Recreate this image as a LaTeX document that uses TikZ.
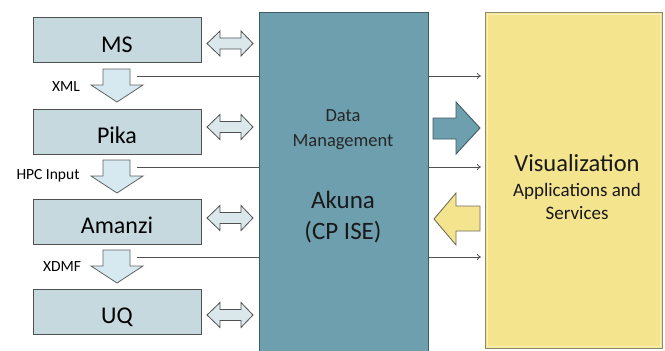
\documentclass[tikz,border=0pt]{standalone}
\usepackage{fontspec}
\setmainfont{Carlito}
\usetikzlibrary{arrows.meta}
\definecolor{boxfill}{HTML}{C5D9DF}
\definecolor{arrfill}{HTML}{DAE8EC}
\definecolor{downfill}{HTML}{D6E9F0}
\definecolor{akfill}{HTML}{6E9FAE}
\definecolor{akdraw}{HTML}{3E5C66}
\definecolor{visfill}{HTML}{F4E48E}
\definecolor{visdraw}{HTML}{8C8A70}
\definecolor{edge}{HTML}{505050}
\begin{document}
\begin{tikzpicture}[x=1pt,y=1pt,
  modbox/.style={draw=edge,line width=1pt,fill=boxfill,minimum width=168pt,minimum height=45pt,inner sep=0pt,
    text height=24pt,text depth=0pt,font=\fontsize{24}{28}\selectfont},
  dblarr/.style={draw=edge,line width=0.8pt,fill=arrfill,line join=miter},
  downarr/.style={draw=edge!90,line width=0.8pt,fill=downfill,line join=miter},
  lbl/.style={font=\fontsize{15.5}{18}\selectfont,inner sep=0pt},
  conn/.style={draw=edge,line width=0.8pt},
  connarr/.style={draw=edge,line width=0.8pt,-{To[length=4pt,width=6pt]}},
  pics/dbl/.style={code={
    \path[dblarr] (207,0) -- (220,12.5) -- (220,5.5) -- (241,5.5) -- (241,12.5) -- (253,0)
      -- (241,-12.5) -- (241,-5.5) -- (220,-5.5) -- (220,-12.5) -- cycle;}},
  pics/dwn/.style={code={
    \path[downarr] (103,0) -- (130,0) -- (130,-16) -- (143,-16) -- (117,-33) -- (91,-16) -- (103,-16) -- cycle;}}
]
\useasboundingbox (0,0) rectangle (665,-351);
% Akuna
\node[draw=akdraw,line width=1pt,fill=akfill,minimum width=169pt,minimum height=350pt,inner sep=0pt] (ak) at (343.5,-187) {};
% Visualization
\node[draw=visdraw,line width=1pt,fill=visfill,minimum width=177pt,minimum height=336pt,inner sep=0pt] (vis) at (573.5,-180) {};
\draw[visfill!60!white,line width=1pt] (487,-14) rectangle (660,-346);
% modules
\node[modbox] (ms) at (117,-40) {MS};
\node[modbox] (pika) at (117,-131.5) {Pika};
\node[modbox] (amanzi) at (117,-221.5) {Amanzi};
\node[modbox] (uq) at (117,-311.5) {UQ};
% double arrows
\pic at (0,-43.5) {dbl};
\pic at (0,-127) {dbl};
\pic at (0,-218) {dbl};
\pic at (0,-315) {dbl};
% down arrows
\pic at (0,-69) {dwn};
\pic at (0,-160) {dwn};
\pic at (0,-250) {dwn};
% labels
\node[lbl] (xml) at (66,-87) {XML};
\node[lbl] (hpc) at (48,-176) {HPC Input};
\node[lbl] (xdmf) at (62,-267) {XDMF};
% connectors
\coordinate (l1) at (137,-76);
\coordinate (l2) at (137,-167);
\coordinate (l3) at (137,-257);
\coordinate (r1) at (481,-76);
\coordinate (r2) at (481,-167);
\coordinate (r3) at (481,-257);
\draw[conn] (l1) -- (l1 -| ak.west);
\draw[conn] (l2) -- (l2 -| ak.west);
\draw[conn] (l3) -- (l3 -| ak.west);
\draw[connarr] (r1 -| ak.east) -- (r1);
\draw[connarr] (r2 -| ak.east) -- (r2);
\draw[connarr] (r3 -| ak.east) -- (r3);
% big arrows
\path[draw=akdraw,line width=0.9pt,fill=akfill,line join=miter] (433,-118) -- (456,-118) -- (456,-102) -- (480,-128) -- (456,-154) -- (456,-139) -- (433,-139) -- cycle;
\path[draw=visdraw!80!black,line width=0.9pt,fill=visfill,line join=miter] (480,-206) -- (456,-206) -- (456,-193) -- (434,-219) -- (456,-245) -- (456,-231) -- (480,-231) -- cycle;
% texts
\node[align=center,font=\fontsize{18.5}{25}\selectfont,text=black!85] (dm) at (343,-130) {Data\\Management};
\node[align=center,font=\fontsize{25}{31}\selectfont,text=black!90] (akt) at (343,-217) {Akuna\\(CP ISE)};
\node[font=\fontsize{24.5}{28}\selectfont,text=black!90] (vt) at (577,-163) {Visualization};
\node[align=center,font=\fontsize{19}{23}\selectfont,text=black!90] (vt2) at (577,-201) {Applications and\\Services};
\end{tikzpicture}
\end{document}
